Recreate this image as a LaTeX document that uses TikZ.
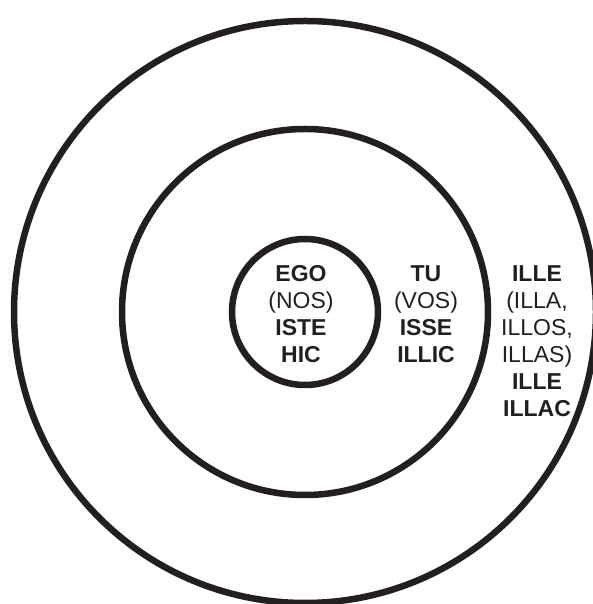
\documentclass[tikz,border=0pt]{standalone}
\usepackage{fontspec}
\setmainfont{Liberation Sans}
\definecolor{ink}{HTML}{231F20}

\begin{document}
\begin{tikzpicture}[x=1pt, y=1pt,
                    ring/.style={draw=ink, line width=6.5pt},
                    words/.style={anchor=north, inner sep=0pt, align=center, text=ink,
                                  font=\fontsize{23}{27}\selectfont}]
                    \useasboundingbox (0,0) rectangle (593,604);
                    % common centre of the three rings
                    \coordinate (c) at (305,292);
                    
                    \draw[ring] (c) circle (291);
                    \draw[ring] (c) circle (183);
                    \draw[ring] (c) circle (73);
                    
                    \node[words] (ego) at (301,339) {\textbf{EGO}\\(NOS)\\\textbf{ISTE}\\\textbf{HIC}};
                    \node[words] (tu) at (426,339) {\textbf{TU}\\(VOS)\\\textbf{ISSE}\\\textbf{ILLIC}};
                    \node[words] (ille) at (537,339) {\textbf{ILLE}\\(ILLA,\\ILLOS,\\ILLAS)\\\textbf{ILLE}\\\textbf{ILLAC}};
                \end{tikzpicture}
\end{document}
